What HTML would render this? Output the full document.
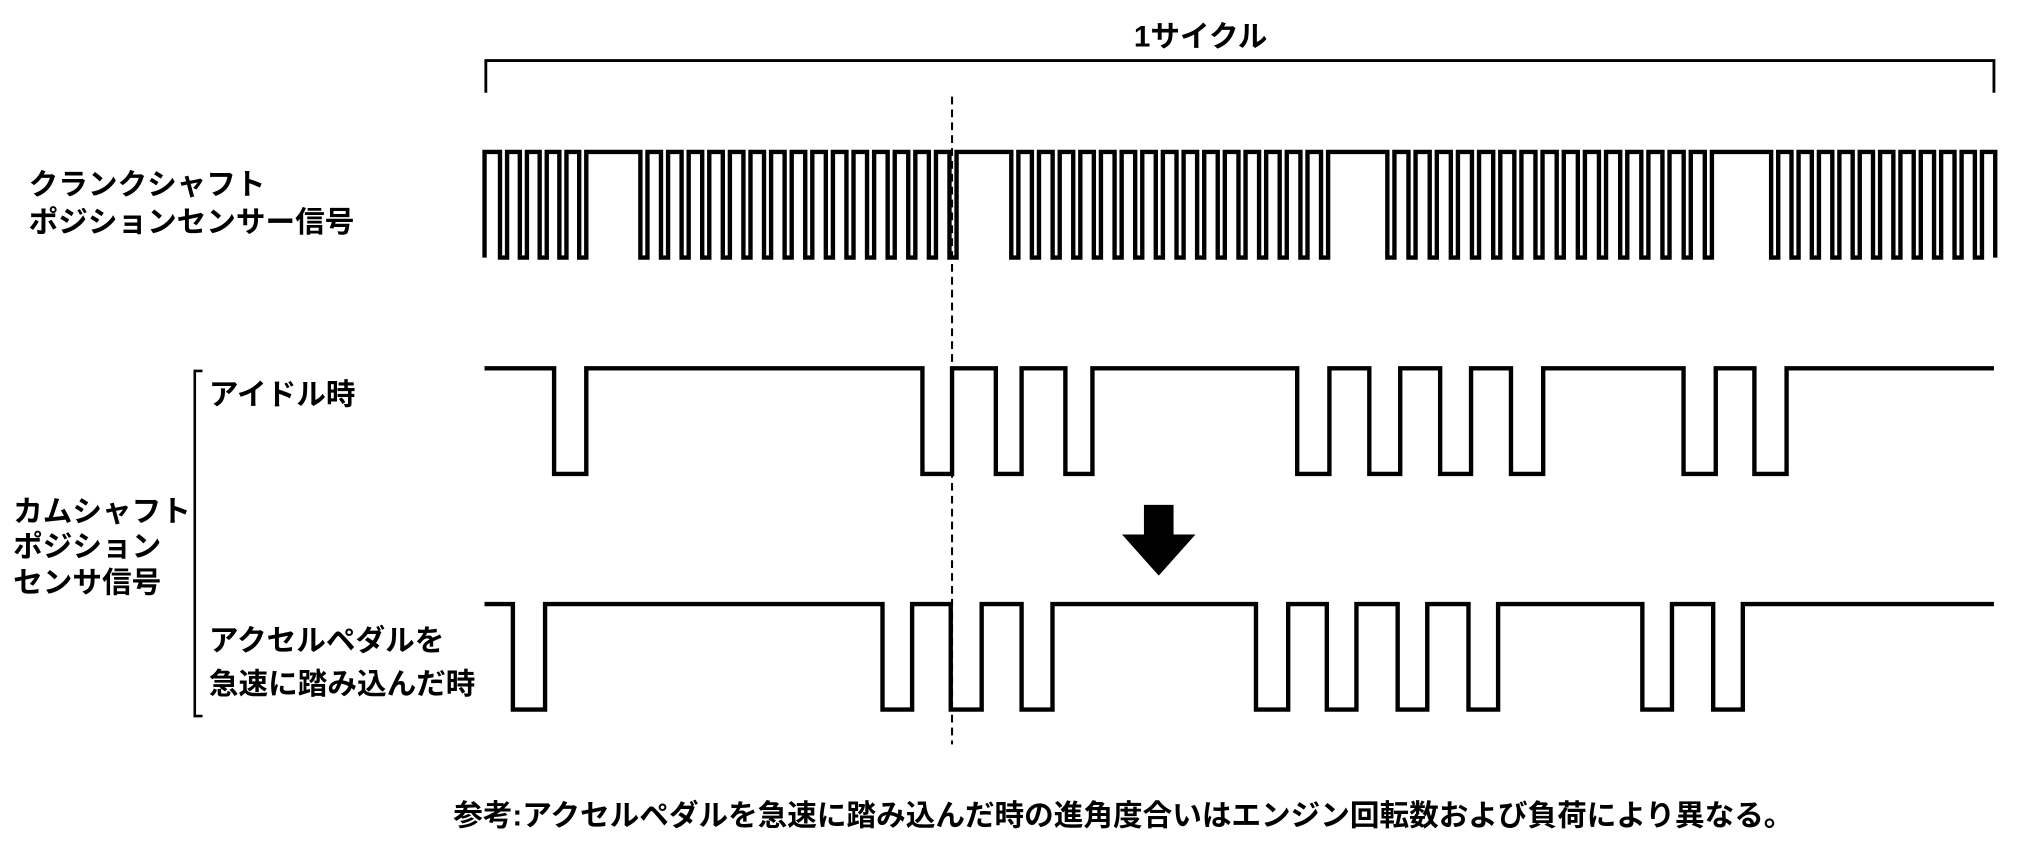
<!DOCTYPE html>
<html><head><meta charset="utf-8"><style>
html,body{margin:0;padding:0;background:#fff;}
svg{display:block;}
text{font-family:"Liberation Sans","Noto Sans CJK JP",sans-serif;font-size:23px;font-weight:bold;fill:#000;}
</style></head><body>
<svg id="s" width="2020" height="850" viewBox="0 0 1568 660" xmlns="http://www.w3.org/2000/svg">
<rect width="1568" height="660" fill="#fff"/>
<text x="932" y="36" text-anchor="middle">1サイクル</text>
<path d="M377 72 V47 H1548 V72" fill="none" stroke="#000" stroke-width="2.2"/>
<line x1="739" y1="75" x2="739" y2="578" stroke="#000" stroke-width="1.6" stroke-dasharray="6,4"/>
<text x="22" y="151">クランクシャフト</text>
<text x="22" y="180">ポジションセンサー信号</text>
<path id="crank" fill="none" stroke="#000" stroke-width="3.4"/>
<path d="M376 286 H430 V368 H455 V286 H716 V368 H739 V286 H773 V368 H793 V286 H827 V368 H848 V286 H1007 V368 H1032 V286 H1063 V368 H1087 V286 H1118 V368 H1142 V286 H1173 V368 H1198 V286 H1307 V368 H1332 V286 H1362 V368 H1387 V286 H1548" fill="none" stroke="#000" stroke-width="3.4"/>
<path d="M376 469 H398 V551 H423 V469 H685 V551 H708 V469 H738 V551 H762 V469 H793 V551 H817 V469 H975 V551 H1000 V469 H1030 V551 H1053 V469 H1085 V551 H1108 V469 H1140 V551 H1163 V469 H1275 V551 H1298 V469 H1330 V551 H1353 V469 H1548" fill="none" stroke="#000" stroke-width="3.4"/>
<path d="M888 392 H911 V415 H928 L899.5 447 L871 415 H888 Z" fill="#000"/>
<path d="M157 288 H151 V556 H157" fill="none" stroke="#000" stroke-width="2"/>
<text x="162" y="314">アイドル時</text>
<text x="10" y="405">カムシャフト</text>
<text x="10" y="432">ポジション</text>
<text x="10" y="460">センサ信号</text>
<text x="162" y="505">アクセルペダルを</text>
<text x="162" y="539">急速に踏み込んだ時</text>
<text x="872" y="641" text-anchor="middle">参考:アクセルペダルを急速に踏み込んだ時の進角度合いはエンジン回転数および負荷により異なる。</text>
</svg>
<script>
(function(){
var H=118,L=200,w=5.5,d="M376 "+L+" V"+H;
function seg(start,n,p){
  for(var k=0;k<n;k++){var f=start+k*p;d+=" H"+f.toFixed(1)+" V"+L+" H"+(f+w).toFixed(1)+" V"+H;}
}
seg(388,5,(449.5-388)/4);
seg(497,16,16);
seg(785,16,(1031-5.5-785)/15);
seg(1077,16,(1329-5.5-1077)/15);
seg(1375,11,(1549-1375)/11);
d+=" H1549 V"+L;
document.getElementById("crank").setAttribute("d",d);
})();
</script>
</body></html>
